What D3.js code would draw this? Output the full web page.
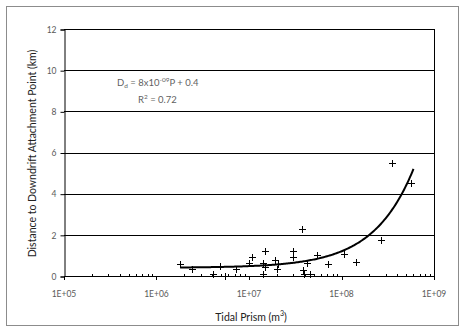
<!DOCTYPE html>
<html>
<head>
<meta charset="utf-8">
<script src="https://cdn.jsdelivr.net/npm/d3@7"></script>
<style>
  html, body { margin: 0; padding: 0; background: #fff; }
  svg { display: block; }
  text { font-family: Lato, "Open Sans", "Liberation Sans", sans-serif; }
</style>
</head>
<body>
<svg id="chart" width="464" height="332"></svg>
<script>
// ---- data ----
const prism = [1.8e6, 2.4e6, 4.1e6, 4.9e6, 5.5e6, 7.3e6, 1.0e7, 1.07e7, 1.4e7, 1.4e7,
               1.5e7, 1.5e7, 1.9e7, 2.0e7, 2.05e7, 3.0e7, 3.0e7, 3.7e7, 3.8e7, 3.95e7,
               4.2e7, 4.6e7, 5.4e7, 7.2e7, 1.07e8, 1.42e8, 2.67e8, 3.55e8, 5.65e8];
const distance = [0.6, 0.35, 0.12, 0.5, 0.02, 0.35, 0.62, 0.9, 0.62, 0.12,
                  1.2, 0.42, 0.76, 0.32, 0.6, 1.2, 0.92, 2.3, 0.28, 0.1,
                  0.64, 0.12, 1.02, 0.6, 1.05, 0.7, 1.75, 5.5, 4.52];
// trend line printed on the chart: Dd = 8x10^-09 P + 0.4
const trendSlope = 8e-9;
const trendIntercept = 0.4;
const trendRange = [1.8e6, 6.0e8];
const xTickValues = [1e5, 1e6, 1e7, 1e8, 1e9];
const xTickLabels = ["1E+05", "1E+06", "1E+07", "1E+08", "1E+09"];
const yTickValues = [0, 2, 4, 6, 8, 10, 12];

const svg = d3.select("#chart");
const pLeft = 64, pRight = 434, pTop = 29, pBottom = 276;

const x = d3.scaleLog().domain([1e5, 1e9]).range([pLeft, pRight]);
const y = d3.scaleLinear().domain([0, 12]).range([pBottom, pTop]);

// outer chart border
svg.append("rect").attr("x", 6.5).attr("y", 6.5).attr("width", 452).attr("height", 319)
  .attr("fill", "#fff").attr("stroke", "#8c8c8c").attr("stroke-width", 1);

// gridlines
svg.append("g").selectAll("line").data(yTickValues.filter(d => d > 0)).join("line")
  .attr("x1", pLeft).attr("x2", pRight)
  .attr("y1", d => Math.round(y(d)) + 0.5).attr("y2", d => Math.round(y(d)) + 0.5)
  .attr("stroke", "#000").attr("stroke-width", 1);

// right frame
svg.append("line").attr("x1", pRight + 0.5).attr("x2", pRight + 0.5)
  .attr("y1", pTop).attr("y2", pBottom).attr("stroke", "#000");

// y axis
const yAxis = d3.axisLeft(y).tickValues(yTickValues).tickSize(4).tickPadding(4).tickFormat(d => d);
const gy = svg.append("g").attr("transform", `translate(${pLeft + 0.5},0.5)`).call(yAxis);
gy.select(".domain").attr("stroke", "#000");
gy.selectAll(".tick line").attr("stroke", "#000");
gy.selectAll(".tick text").attr("fill", "#595959").style("font-size", "8.5px");

// x axis (major outside, minor inside)
const gx = svg.append("g");
gx.append("line").attr("x1", pLeft).attr("x2", pRight + 1)
  .attr("y1", pBottom + 0.5).attr("y2", pBottom + 0.5).attr("stroke", "#000");
const minor = [];
for (let e = 5; e < 9; e++) for (let m = 2; m <= 9; m++) minor.push(m * Math.pow(10, e));
gx.selectAll("line.minor").data(minor).join("line").attr("class", "minor")
  .attr("x1", d => Math.round(x(d)) + 0.5).attr("x2", d => Math.round(x(d)) + 0.5)
  .attr("y1", pBottom - 2).attr("y2", pBottom + 0.5).attr("stroke", "#000");
gx.selectAll("line.major").data(xTickValues).join("line").attr("class", "major")
  .attr("x1", d => Math.round(x(d)) + 0.5).attr("x2", d => Math.round(x(d)) + 0.5)
  .attr("y1", pBottom).attr("y2", pBottom + 4).attr("stroke", "#000");
gx.selectAll("text").data(xTickValues).join("text")
  .attr("x", d => x(d)).attr("y", 297).attr("text-anchor", "middle")
  .attr("fill", "#595959").style("font-size", "8.5px")
  .text((d, i) => xTickLabels[i]);

// trend line
const trendPts = d3.range(0, 201).map(i => {
  const lp = Math.log10(trendRange[0]) + (Math.log10(trendRange[1]) - Math.log10(trendRange[0])) * i / 200;
  const p = Math.pow(10, lp);
  return [p, trendSlope * p + trendIntercept];
});
svg.append("path").datum(trendPts)
  .attr("d", d3.line().x(d => x(d[0])).y(d => y(d[1])))
  .attr("fill", "none").attr("stroke", "#000").attr("stroke-width", 2);

// markers: plus signs
const pts = prism.map((p, i) => [p, distance[i]]);
svg.append("g").selectAll("path").data(pts).join("path")
  .attr("transform", d => `translate(${Math.round(x(d[0])) + 0.5},${Math.round(y(d[1])) + 0.5})`)
  .attr("d", "M-3.5,0H3.5M0,-3.5V3.5")
  .attr("fill", "none").attr("stroke", "#000").attr("stroke-width", 1);

// equation text
const eq = svg.append("text").attr("x", 117).attr("y", 86).attr("fill", "#5f5f5f").style("font-size", "9.5px");
eq.append("tspan").text("D");
eq.append("tspan").attr("dy", 2).style("font-size", "6.5px").text("d");
eq.append("tspan").attr("dy", -2).text(" = 8x10");
eq.append("tspan").attr("dy", -4).style("font-size", "6.5px").text("-09");
eq.append("tspan").attr("dy", 4).text("P + 0.4");
const r2 = svg.append("text").attr("x", 138).attr("y", 103).attr("fill", "#5f5f5f").style("font-size", "9.5px");
r2.append("tspan").text("R");
r2.append("tspan").attr("dy", -4).style("font-size", "6.5px").text("2");
r2.append("tspan").attr("dy", 4).text(" = 0.72");

// axis titles
const xt = svg.append("text").attr("x", 251).attr("y", 321).attr("text-anchor", "middle")
  .attr("fill", "#222").style("font-size", "10.5px");
xt.append("tspan").text("Tidal Prism (m");
xt.append("tspan").attr("dy", -5).style("font-size", "7px").text("3");
xt.append("tspan").attr("dy", 5).text(")");

svg.append("text").attr("transform", `translate(36,${(pTop + pBottom) / 2 + 1}) rotate(-90)`)
  .attr("text-anchor", "middle").attr("fill", "#222").style("font-size", "10.5px")
  .text("Distance to Downdrift Attachment Point (km)");
</script>
</body>
</html>
